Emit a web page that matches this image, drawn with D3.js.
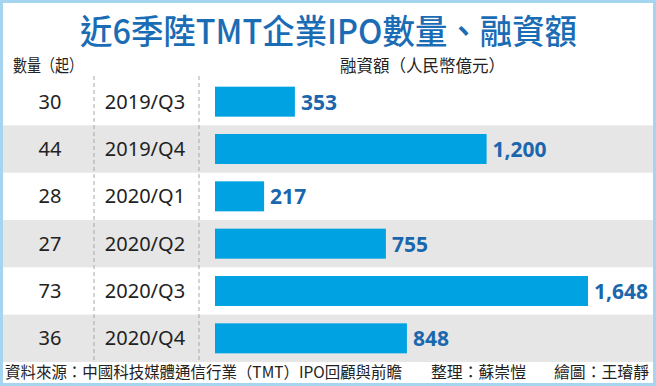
<!DOCTYPE html>
<html>
<head>
<meta charset="utf-8">
<script src="https://cdn.jsdelivr.net/npm/d3@7"></script>
<style>
  html, body { margin: 0; padding: 0; background: #fff; }
  svg { display: block; }
</style>
</head>
<body>
<div id="main"></div>
<script>
const quarters = ["2019/Q3", "2019/Q4", "2020/Q1", "2020/Q2", "2020/Q3", "2020/Q4"];
const counts = [30, 44, 28, 27, 73, 36];
const amounts = [353, 1200, 217, 755, 1648, 848];

const width = 656;
const height = 386;

const cjk = "'Noto Sans CJK TC', 'Noto Sans CJK SC', sans-serif";
const num = "'Noto Sans', 'DejaVu Sans', sans-serif";

const svg = d3.select("#main").append("svg")
  .attr("width", width)
  .attr("height", height);

// frame
svg.append("rect")
  .attr("x", 1.5).attr("y", 1.5)
  .attr("width", width - 3).attr("height", height - 3)
  .attr("fill", "#fff")
  .attr("stroke", "#a6d6ef")
  .attr("stroke-width", 3);

const rows = quarters.map((q, i) => ({q: q, count: counts[i], amount: amounts[i], i: i}));

const y = d3.scaleBand()
  .domain(quarters)
  .range([78, 362])
  .padding(0);

const x = d3.scaleLinear()
  .domain([0, 1648])
  .range([215, 588]);

// striped rows
svg.selectAll("rect.band")
  .data(rows.filter(d => d.i % 2 === 1))
  .join("rect")
  .attr("class", "band")
  .attr("x", 3)
  .attr("width", width - 6)
  .attr("y", d => y(d.q))
  .attr("height", y.bandwidth())
  .attr("fill", "#e6e6e6");

// dashed separators
[94, 199].forEach(lx => {
  svg.append("line")
    .attr("x1", lx).attr("x2", lx)
    .attr("y1", 76).attr("y2", 362)
    .attr("stroke", "#a8a8a8")
    .attr("stroke-width", 1)
    .attr("stroke-dasharray", "4,3");
});

// title
svg.append("text")
  .attr("x", 80).attr("y", 44)
  .attr("textLength", 497)
  .attr("lengthAdjust", "spacingAndGlyphs")
  .style("font-family", cjk)
  .style("font-weight", 500)
  .style("font-size", "34px")
  .attr("fill", "#1a6cb4")
  .text("近6季陸TMT企業IPO數量、融資額");

// column headers
svg.append("text")
  .attr("x", 13).attr("y", 72)
  .attr("textLength", 70)
  .attr("lengthAdjust", "spacingAndGlyphs")
  .style("font-family", cjk)
  .style("font-size", "17px")
  .attr("fill", "#222")
  .text("數量（起）");

svg.append("text")
  .attr("x", 340).attr("y", 72)
  .attr("textLength", 165)
  .attr("lengthAdjust", "spacingAndGlyphs")
  .style("font-family", cjk)
  .style("font-size", "17px")
  .attr("fill", "#222")
  .text("融資額（人民幣億元）");

const mid = d => y(d.q) + y.bandwidth() / 2;

// counts
svg.selectAll("text.count")
  .data(rows)
  .join("text")
  .attr("class", "count")
  .attr("x", 50)
  .attr("y", d => mid(d) + 7)
  .attr("text-anchor", "middle")
  .style("font-family", num)
  .style("font-size", "20px")
  .attr("fill", "#222")
  .text(d => d.count);

// quarter labels
svg.selectAll("text.quarter")
  .data(rows)
  .join("text")
  .attr("class", "quarter")
  .attr("x", 145)
  .attr("y", d => mid(d) + 7)
  .attr("text-anchor", "middle")
  .style("font-family", num)
  .style("font-size", "20px")
  .attr("fill", "#222")
  .text(d => d.q);

// bars
const barH = 30;
svg.selectAll("rect.bar")
  .data(rows)
  .join("rect")
  .attr("class", "bar")
  .attr("x", x(0))
  .attr("y", d => mid(d) - barH / 2)
  .attr("width", d => x(d.amount) - x(0))
  .attr("height", barH)
  .attr("fill", "#00a2e2");

// value labels
const fmt = d3.format(",");
svg.selectAll("text.value")
  .data(rows)
  .join("text")
  .attr("class", "value")
  .attr("x", d => x(d.amount) + 6)
  .attr("y", d => mid(d) + 8)
  .style("font-family", num)
  .style("font-weight", "bold")
  .style("font-size", "21px")
  .attr("fill", "#1b67ae")
  .text(d => fmt(d.amount));

// footer
const footY = 378;
[
  {t: "資料來源：中國科技媒體通信行業（TMT）IPO回顧與前瞻", x: 5, w: 397},
  {t: "整理：蘇崇愷", x: 431, w: 95},
  {t: "繪圖：王璿靜", x: 554, w: 95}
].forEach(f => {
  svg.append("text")
    .attr("x", f.x).attr("y", footY)
    .attr("textLength", f.w)
    .attr("lengthAdjust", "spacingAndGlyphs")
    .style("font-family", cjk)
    .style("font-size", "16px")
    .attr("fill", "#222")
    .text(f.t);
});
</script>
</body>
</html>
